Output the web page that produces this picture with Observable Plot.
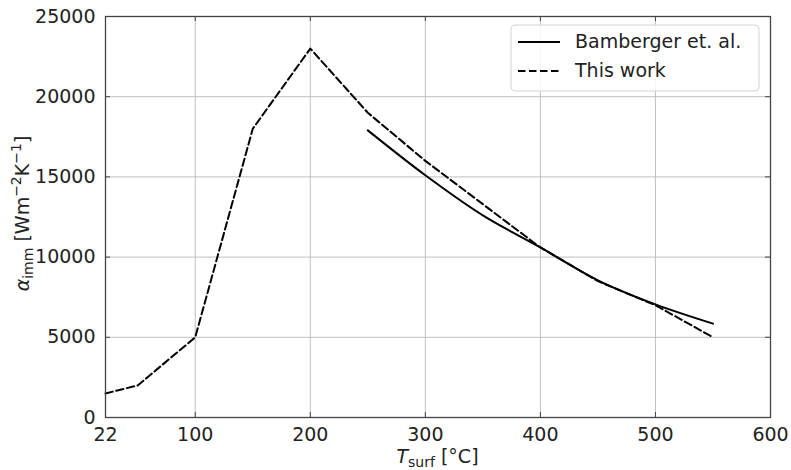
<!DOCTYPE html>
<html>
<head>
<meta charset="utf-8">
<script src="https://cdn.jsdelivr.net/npm/d3@7"></script>
<script src="https://cdn.jsdelivr.net/npm/@observablehq/plot@0.6"></script>
<style>
  html, body { margin: 0; padding: 0; background: #fff; }
  #chart { position: relative; width: 791px; height: 470px; }
</style>
</head>
<body>
<div id="chart"></div>
<script>
// ---- data ----
const xTicks = [22, 100, 200, 300, 400, 500, 600];
const yTicks = [0, 5000, 10000, 15000, 20000, 25000];

const thisWorkT = [22, 50, 100, 150, 200, 250, 300, 350, 400, 450, 500, 550];
const thisWorkA = [1500, 2000, 5000, 18000, 23000, 19000, 16000, 13300, 10600, 8500, 7000, 5000];

const bambT = [250, 300, 350, 400, 450, 500, 550];
const bambA = [17900, 15100, 12600, 10600, 8550, 7050, 5850];

const seriesNames = ["Bamberger et. al.", "This work"];

// ---- build tables ----
const thisWork = thisWorkT.map((t, i) => ({t, a: thisWorkA[i]}));
const bamb = bambT.map((t, i) => ({t, a: bambA[i]}));

const W = 791, H = 470;
const mL = 105, mR = 21, mT = 16, mB = 53;
const plotW = W - mL - mR, plotH = H - mT - mB;
const tickLen = 5;
const axisColor = "#444";
const gridColor = "#b8b8b8";

const chart = Plot.plot({
  width: W,
  height: H,
  marginLeft: mL,
  marginRight: mR,
  marginTop: mT,
  marginBottom: mB,
  style: {fontFamily: "DejaVu Sans", fontSize: "19px", color: "#222", background: "#fff"},
  x: {type: "linear", domain: [22, 600]},
  y: {type: "linear", domain: [0, 25000]},
  marks: [
    Plot.gridX(xTicks, {stroke: gridColor, strokeOpacity: 1, strokeWidth: 0.9}),
    Plot.gridY(yTicks, {stroke: gridColor, strokeOpacity: 1, strokeWidth: 0.9}),
    Plot.axisX(xTicks, {tickSize: 0, tickPadding: 10, label: null, fontSize: 19, tickFormat: d => String(d)}),
    Plot.axisY(yTicks, {tickSize: 0, tickPadding: 10, label: null, fontSize: 19, tickFormat: d => String(d)}),
    // inward ticks on all four sides
    Plot.tickX(xTicks, {x: d => d, insetTop: plotH - tickLen, stroke: axisColor, strokeWidth: 1}),
    Plot.tickX(xTicks, {x: d => d, insetBottom: plotH - tickLen, stroke: axisColor, strokeWidth: 1}),
    Plot.tickY(yTicks, {y: d => d, insetRight: plotW - tickLen, stroke: axisColor, strokeWidth: 1}),
    Plot.tickY(yTicks, {y: d => d, insetLeft: plotW - tickLen, stroke: axisColor, strokeWidth: 1}),
    Plot.line(bamb, {x: "t", y: "a", stroke: "#000", strokeWidth: 2, curve: "monotone-x"}),
    Plot.line(thisWork, {x: "t", y: "a", stroke: "#000", strokeWidth: 2, strokeDasharray: "7.5,3.5"}),
    Plot.frame({stroke: axisColor, strokeWidth: 1.3})
  ]
});

document.getElementById("chart").appendChild(chart);

const svg = d3.select(chart);

// y axis label
const yl = svg.append("text")
  .attr("transform", `translate(29,${mT + plotH / 2 - 3}) rotate(-90)`)
  .attr("text-anchor", "middle")
  .attr("fill", "#222")
  .style("font-family", "DejaVu Sans")
  .style("font-size", "19px");
yl.append("tspan").attr("font-style", "italic").text("α");
yl.append("tspan").attr("font-size", "14px").attr("dy", "4").text("imm");
yl.append("tspan").attr("dy", "-4").text(" [Wm");
yl.append("tspan").attr("font-size", "14px").attr("dy", "-8").text("−2");
yl.append("tspan").attr("dy", "8").text("K");
yl.append("tspan").attr("font-size", "14px").attr("dy", "-8").text("−1");
yl.append("tspan").attr("dy", "8").text("]");

// x axis label
const xl = svg.append("text")
  .attr("x", mL + plotW / 2)
  .attr("y", 463)
  .attr("text-anchor", "middle")
  .attr("fill", "#222")
  .style("font-family", "DejaVu Sans")
  .style("font-size", "19px");
xl.append("tspan").attr("font-style", "italic").text("T");
xl.append("tspan").attr("font-size", "14px").attr("dy", "4").text("surf");
xl.append("tspan").attr("dy", "-4").text(" [°C]");

// legend
const lg = svg.append("g");
lg.append("rect")
  .attr("x", 511).attr("y", 25).attr("width", 248).attr("height", 66)
  .attr("rx", 4).attr("fill", "#fff").attr("fill-opacity", 0.85)
  .attr("stroke", "#d4d4d4").attr("stroke-width", 1);
const rows = [{y: 42, dash: null}, {y: 71, dash: "7.5,3.5"}];
rows.forEach((r, i) => {
  lg.append("line")
    .attr("x1", 518).attr("x2", 560).attr("y1", r.y).attr("y2", r.y)
    .attr("stroke", "#000").attr("stroke-width", 2)
    .attr("stroke-dasharray", r.dash);
  lg.append("text")
    .attr("x", 575).attr("y", r.y + 6)
    .attr("text-anchor", "start")
    .attr("fill", "#222")
    .style("font-family", "DejaVu Sans").style("font-size", "19px")
    .text(seriesNames[i]);
});
</script>
</body>
</html>
